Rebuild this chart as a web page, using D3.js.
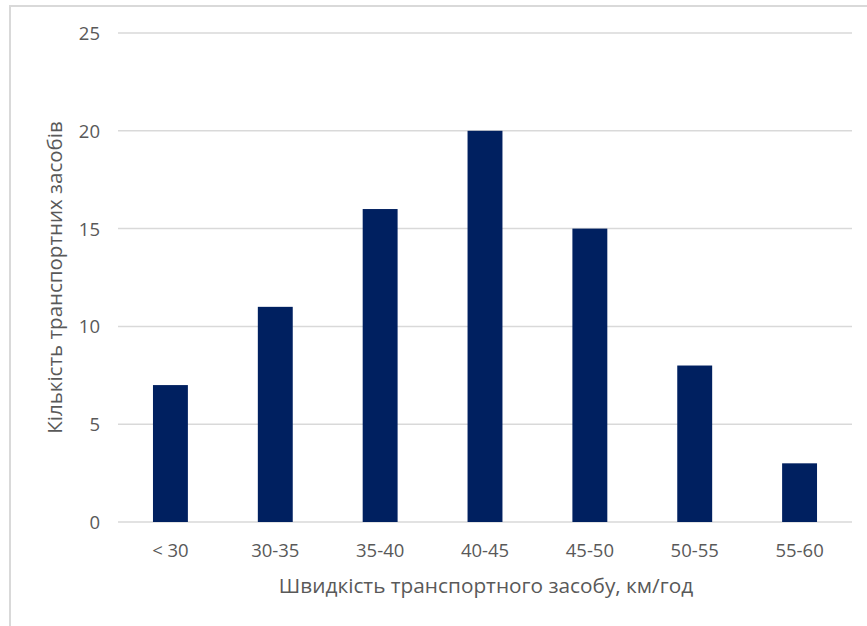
<!DOCTYPE html>
<html>
<head>
<meta charset="utf-8">
<script src="https://cdn.jsdelivr.net/npm/d3@7"></script>
<style>
  html, body { margin: 0; padding: 0; background: #fff; }
  svg { display: block; }
  text { font-family: "Open Sans", "Noto Sans", sans-serif; fill: #595959; }
</style>
</head>
<body>
<script>
// Speed bins and vehicle counts
const categories = ["< 30", "30-35", "35-40", "40-45", "45-50", "50-55", "55-60"];
const counts = [7, 11, 16, 20, 15, 8, 3];
const yTicks = [0, 5, 10, 15, 20, 25];
const xTitle = "Швидкість транспортного засобу, км/год";
const yTitle = "Кількість транспортних засобів";

const W = 867, H = 626;
const svg = d3.select("body").append("svg").attr("width", W).attr("height", H);

// Chart frame (runs off the right and bottom edges)
svg.append("rect")
  .attr("x", 10).attr("y", 6)
  .attr("width", W + 20).attr("height", H + 20)
  .attr("fill", "none").attr("stroke", "#d9d9d9").attr("stroke-width", 2);

const plot = { left: 118, right: 852, top: 33, bottom: 522 };

const x = d3.scaleBand()
  .domain(categories)
  .range([plot.left, plot.right])
  .paddingInner(0.667)
  .paddingOuter(0.3335);

const y = d3.scaleLinear()
  .domain([0, 25])
  .range([plot.bottom, plot.top]);

// Horizontal gridlines
svg.append("g")
  .selectAll("line")
  .data(yTicks)
  .join("line")
  .attr("x1", plot.left).attr("x2", plot.right)
  .attr("y1", d => y(d)).attr("y2", d => y(d))
  .attr("stroke", "#d9d9d9").attr("stroke-width", 1.5);

// Y axis labels
const yAxis = d3.axisLeft(y).tickValues(yTicks).tickSize(0).tickPadding(0);
const gy = svg.append("g").attr("transform", `translate(100,0)`).call(yAxis);
gy.select(".domain").remove();
gy.selectAll("text")
  .attr("font-size", 18.5)
  .attr("font-family", null)
  .attr("fill", null)
  .attr("dy", "0.35em");

// Bars
svg.append("g")
  .selectAll("rect")
  .data(categories.map((c, i) => ({ c, v: counts[i] })))
  .join("rect")
  .attr("x", d => x(d.c))
  .attr("width", x.bandwidth())
  .attr("y", d => y(d.v))
  .attr("height", d => y(0) - y(d.v))
  .attr("fill", "#002060");

// X axis labels
const xAxis = d3.axisBottom(x).tickSize(0).tickPadding(0);
const gx = svg.append("g").attr("transform", `translate(0,${plot.bottom})`).call(xAxis);
gx.select(".domain").remove();
gx.selectAll("text")
  .attr("font-size", 18.5)
  .attr("font-family", null)
  .attr("fill", null)
  .attr("y", 35)
  .attr("dy", null);

// Axis titles
svg.append("text")
  .attr("x", 486)
  .attr("y", 593)
  .attr("text-anchor", "middle")
  .attr("font-size", 20.8)
  .text(xTitle);

svg.append("text")
  .attr("transform", `translate(62,${(plot.top + plot.bottom) / 2}) rotate(-90)`)
  .attr("text-anchor", "middle")
  .attr("font-size", 20.5)
  .text(yTitle);
</script>
</body>
</html>
